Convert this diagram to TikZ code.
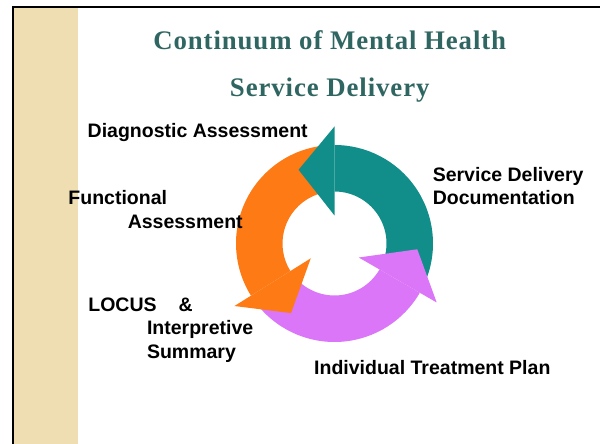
\documentclass[tikz,border=0pt]{standalone}
\usepackage{fontspec}
\setmainfont{Liberation Sans}
\newfontfamily\titlefont[LetterSpace=3.4]{Liberation Serif}
\usetikzlibrary{calc}
\definecolor{arrowteal}{RGB}{18,142,138}
\definecolor{arroworange}{RGB}{253,122,20}
\definecolor{arrowpurple}{RGB}{218,118,247}
\definecolor{titleteal}{RGB}{47,102,97}
\definecolor{band}{RGB}{238,222,178}
\tikzset{
  lbl/.style={font=\fontsize{9.75}{11.7}\selectfont\bfseries, inner sep=0pt, anchor=base west},
  ttl/.style={font=\titlefont\fontsize{13.4}{16}\selectfont\bfseries, text=titleteal, inner sep=0pt, anchor=base}
}
\begin{document}
\begin{tikzpicture}[x=0.5pt, y=0.5pt]
    \useasboundingbox (0,0) rectangle (600,444);
    
    % side band and frame
    \fill[band] (14,0) rectangle (78,436);
    \draw[line width=1.25pt] (13,0) -- (13,437) -- (600,437);
    
    \node[ttl] (title1) at (329.7,394) {Continuum of Mental Health};
    \node[ttl] (title2) at (329.7,347.3) {Service Delivery};
    
    % the cycle: bodies first, heads on top
    \coordinate (c) at (334.5,200.5);
    \pgfmathsetmacro{\Ro}{98.5}
    \pgfmathsetmacro{\Ri}{52}
    \fill[arrowteal] ($(c)+(-25:\Ro)$) arc[start angle=-25, end angle=90, radius=\Ro]
        -- ($(c)+(90:\Ri)$) arc[start angle=90, end angle=-25, radius=\Ri] -- cycle;
    \fill[arroworange] ($(c)+(95:\Ro)$) arc[start angle=95, end angle=212, radius=\Ro]
        -- ($(c)+(212:\Ri)$) arc[start angle=212, end angle=95, radius=\Ri] -- cycle;
    \fill[arrowpurple] ($(c)+(215:\Ro)$) arc[start angle=215, end angle=330, radius=\Ro]
        -- ($(c)+(330:\Ri)$) arc[start angle=330, end angle=215, radius=\Ri] -- cycle;
    \fill[arrowteal] ($(c)+(90:28)$) -- ($(c)+(90:117)$) -- ($(c)+(116:82)$) -- cycle;
    \fill[arroworange] ($(c)+(212:28)$) -- ($(c)+(212:118)$) -- ($(c)+(238:82)$) -- cycle;
    \fill[arrowpurple] ($(c)+(330:28)$) -- ($(c)+(330:118)$) -- ($(c)+(356:83)$) -- cycle;
    
    % labels
    \node[lbl] (diag) at (87.3,306.3) {Diagnostic Assessment};
    \node[lbl] (func) at (68.1,239) {Functional};
    \node[lbl] (funcb) at (127.4,215.7) {Assessment};
    \node[lbl] (serv) at (432.4,262.3) {Service Delivery};
    \node[lbl] (servb) at (432.4,239) {Documentation};
    \node[lbl] (locus) at (88,132.3) {LOCUS\hspace{11pt}\&};
    \node[lbl] (interp) at (146.6,109) {Interpretive};
    \node[lbl] (interpb) at (146.6,85.7) {Summary};
    \node[lbl] (itp) at (313.8,69) {Individual Treatment Plan};
\end{tikzpicture}
\end{document}
